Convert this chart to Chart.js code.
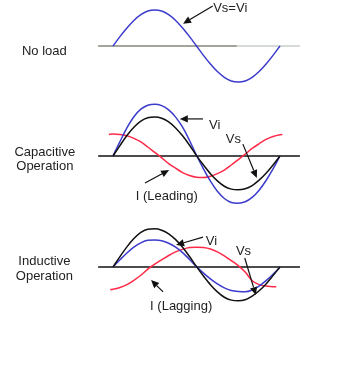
<!DOCTYPE html>
<html>
<head>
<meta charset="utf-8">
<script src="https://cdn.jsdelivr.net/npm/chart.js@4"></script>
<style>
  html, body { margin: 0; padding: 0; background: #ffffff; }
  #wrap { width: 357px; height: 378px; }
</style>
</head>
<body>
<div id="wrap"><canvas id="c" width="357" height="378"></canvas></div>
<script>
// ---- data (phase in degrees, amplitude in units of the no-load voltage) ----
const phaseDeg = [0, 15, 30, 45, 60, 75, 90, 105, 120, 135, 150, 165, 180,
                  195, 210, 225, 240, 255, 270, 285, 300, 315, 330, 345, 360];

const noLoadV = [0, 0.26, 0.50, 0.71, 0.87, 0.97, 1.00, 0.97, 0.87, 0.71, 0.50, 0.26, 0,
                 -0.26, -0.50, -0.71, -0.87, -0.97, -1.00, -0.97, -0.87, -0.71, -0.50, -0.26, 0];

const capVi = [0, 0.40, 0.78, 1.09, 1.30, 1.41, 1.44, 1.40, 1.28, 1.08, 0.80, 0.43, 0.02,
               -0.36, -0.70, -0.98, -1.18, -1.29, -1.31, -1.27, -1.15, -0.95, -0.68, -0.36, 0];
const capVs = [0, 0.29, 0.57, 0.80, 0.97, 1.06, 1.08, 1.05, 0.95, 0.78, 0.56, 0.30, 0.01,
               -0.25, -0.49, -0.69, -0.84, -0.92, -0.94, -0.91, -0.82, -0.67, -0.48, -0.25, 0];
const capIDeg = [-9, 0, 15, 30, 45, 60, 75, 90, 105, 120, 135, 150, 165, 180,
                 195, 210, 225, 240, 255, 270, 285, 300, 315, 330, 345, 360, 365];
const capI = [0.60, 0.61, 0.60, 0.56, 0.49, 0.39, 0.25, 0.10, -0.05, -0.21, -0.34, -0.46, -0.54, -0.59,
              -0.60, -0.56, -0.49, -0.39, -0.25, -0.10, 0.05, 0.21, 0.34, 0.46, 0.54, 0.59, 0.60];

const indVi = [0, 0.20, 0.39, 0.55, 0.67, 0.74, 0.75, 0.73, 0.66, 0.55, 0.40, 0.21, 0.01,
               -0.17, -0.33, -0.47, -0.58, -0.65, -0.68, -0.69, -0.64, -0.53, -0.38, -0.20, 0];
const indVs = [0, 0.29, 0.56, 0.79, 0.96, 1.05, 1.06, 1.02, 0.92, 0.76, 0.55, 0.29, 0.01,
               -0.25, -0.49, -0.69, -0.84, -0.92, -0.94, -0.91, -0.81, -0.66, -0.47, -0.24, 0];
const indIDeg = [-6, 0, 15, 30, 45, 60, 75, 90, 105, 120, 135, 150, 165, 180,
                 195, 210, 225, 240, 255, 270, 285, 300, 315, 330, 345, 352];
const indI = [-0.63, -0.62, -0.57, -0.49, -0.37, -0.23, -0.06, 0.08, 0.20, 0.32, 0.42, 0.49, 0.54, 0.55,
              0.54, 0.50, 0.42, 0.31, 0.18, 0.04, -0.14, -0.38, -0.49, -0.53, -0.55, -0.55];

const baselineDeg = [-32, 403];
const baselineVal = [0, 0];
const noLoadBaseSplitDeg = [-32, 267, 403];

// ---- helpers ----
function pts(xs, ys) { return xs.map((x, i) => ({ x: x, y: ys[i] })); }

const BLUE = '#3b3bcc';
const RED = '#ff2a48';
const BLACK = '#111111';

function curve(label, xs, ys, axis, color, order) {
  return {
    label: label, data: pts(xs, ys), yAxisID: axis,
    borderColor: color, borderWidth: 1.5, pointRadius: 0,
    cubicInterpolationMode: 'monotone', fill: false, order: order
  };
}
function line(label, xs, ys, axis, color, width, order) {
  return {
    label: label, data: pts(xs, ys), yAxisID: axis,
    borderColor: color, borderWidth: width, pointRadius: 0,
    tension: 0, fill: false, order: order
  };
}

const datasets = [
  // no load
  curve('Vs=Vi', phaseDeg, noLoadV, 'y1', BLUE, 1),
  line('axis1a', noLoadBaseSplitDeg.slice(0, 2), baselineVal, 'y1', '#4a4a36', 1.2, 9),
  line('axis1b', noLoadBaseSplitDeg.slice(1, 3), baselineVal, 'y1', '#b0b8b0', 1.2, 9),
  // capacitive
  curve('Vs (cap)', phaseDeg, capVs, 'y2', BLACK, 2),
  curve('Vi (cap)', phaseDeg, capVi, 'y2', BLUE, 3),
  curve('I (Leading)', capIDeg, capI, 'y2', RED, 4),
  line('axis2', baselineDeg, baselineVal, 'y2', '#111111', 1.3, 9),
  // inductive
  curve('Vs (ind)', phaseDeg, indVs, 'y3', BLACK, 2),
  curve('Vi (ind)', phaseDeg, indVi, 'y3', BLUE, 3),
  curve('I (Lagging)', indIDeg, indI, 'y3', RED, 4),
  line('axis3', baselineDeg, baselineVal, 'y3', '#111111', 1.3, 9)
];

// ---- annotations (data space: x in degrees, y in panel units) ----
const texts = [
  { axis: 'y1', x: -148, y: -0.25, text: 'No load', align: 'center' },
  { axis: 'y2', x: -147, y: 0.0, text: 'Capacitive', align: 'center' },
  { axis: 'y2', x: -147, y: -0.39, text: 'Operation', align: 'center' },
  { axis: 'y3', x: -148, y: 0.06, text: 'Inductive', align: 'center' },
  { axis: 'y3', x: -148, y: -0.35, text: 'Operation', align: 'center' },
  { axis: 'y1', x: 216, y: 0.94, text: 'Vs=Vi', align: 'left' },
  { axis: 'y2', x: 207, y: 0.75, text: 'Vi', align: 'left' },
  { axis: 'y2', x: 243, y: 0.36, text: 'Vs', align: 'left' },
  { axis: 'y2', x: 49, y: -1.22, text: 'I (Leading)', align: 'left' },
  { axis: 'y3', x: 200, y: 0.61, text: 'Vi', align: 'left' },
  { axis: 'y3', x: 265, y: 0.33, text: 'Vs', align: 'left' },
  { axis: 'y3', x: 80, y: -1.19, text: 'I (Lagging)', align: 'left' }
];
const arrows = [
  { axis: 'y1', x1: 215, y1: 1.11, x2: 151, y2: 0.62 },
  { axis: 'y2', x1: 194, y1: 1.03, x2: 144, y2: 1.03 },
  { axis: 'y2', x1: 280, y1: 0.33, x2: 310, y2: -0.61 },
  { axis: 'y2', x1: 69, y1: -0.75, x2: 121, y2: -0.39 },
  { axis: 'y3', x1: 194, y1: 0.83, x2: 136, y2: 0.61 },
  { axis: 'y3', x1: 284, y1: 0.25, x2: 308, y2: -0.78 },
  { axis: 'y3', x1: 108, y1: -0.69, x2: 82, y2: -0.36 }
];

const annotate = {
  id: 'annotate',
  afterDatasetsDraw(chart) {
    const ctx = chart.ctx;
    const xs = chart.scales.x;
    ctx.save();
    ctx.fillStyle = '#222222';
    ctx.strokeStyle = '#111111';
    ctx.font = '13px "Liberation Sans", Arial, sans-serif';
    ctx.textBaseline = 'alphabetic';
    texts.forEach(t => {
      const ys = chart.scales[t.axis];
      ctx.textAlign = t.align;
      ctx.fillText(t.text, xs.getPixelForValue(t.x), ys.getPixelForValue(t.y));
    });
    arrows.forEach(a => {
      const ys = chart.scales[a.axis];
      const px1 = xs.getPixelForValue(a.x1), py1 = ys.getPixelForValue(a.y1);
      const px2 = xs.getPixelForValue(a.x2), py2 = ys.getPixelForValue(a.y2);
      const ang = Math.atan2(py2 - py1, px2 - px1);
      const L = 8, W = 3.6;
      const bx = px2 - L * Math.cos(ang), by = py2 - L * Math.sin(ang);
      ctx.lineWidth = 1.2;
      ctx.beginPath();
      ctx.moveTo(px1, py1);
      ctx.lineTo(bx, by);
      ctx.stroke();
      ctx.beginPath();
      ctx.moveTo(px2, py2);
      ctx.lineTo(bx + W * Math.sin(ang), by - W * Math.cos(ang));
      ctx.lineTo(bx - W * Math.sin(ang), by + W * Math.cos(ang));
      ctx.closePath();
      ctx.fillStyle = '#111111';
      ctx.fill();
      ctx.fillStyle = '#222222';
    });
    ctx.restore();
  }
};

new Chart(document.getElementById('c'), {
  type: 'line',
  data: { datasets: datasets },
  options: {
    responsive: false,
    animation: false,
    devicePixelRatio: 1,
    layout: { padding: 0 },
    plugins: { legend: { display: false }, tooltip: { enabled: false }, title: { display: false } },
    scales: {
      x: { type: 'linear', min: -243.6, max: 526.0, display: false },
      y1: { type: 'linear', min: -9.2222, max: 1.2778, display: false },
      y2: { type: 'linear', min: -6.1667, max: 4.3333, display: false },
      y3: { type: 'linear', min: -3.0833, max: 7.4167, display: false }
    }
  },
  plugins: [annotate]
});
</script>
</body>
</html>
